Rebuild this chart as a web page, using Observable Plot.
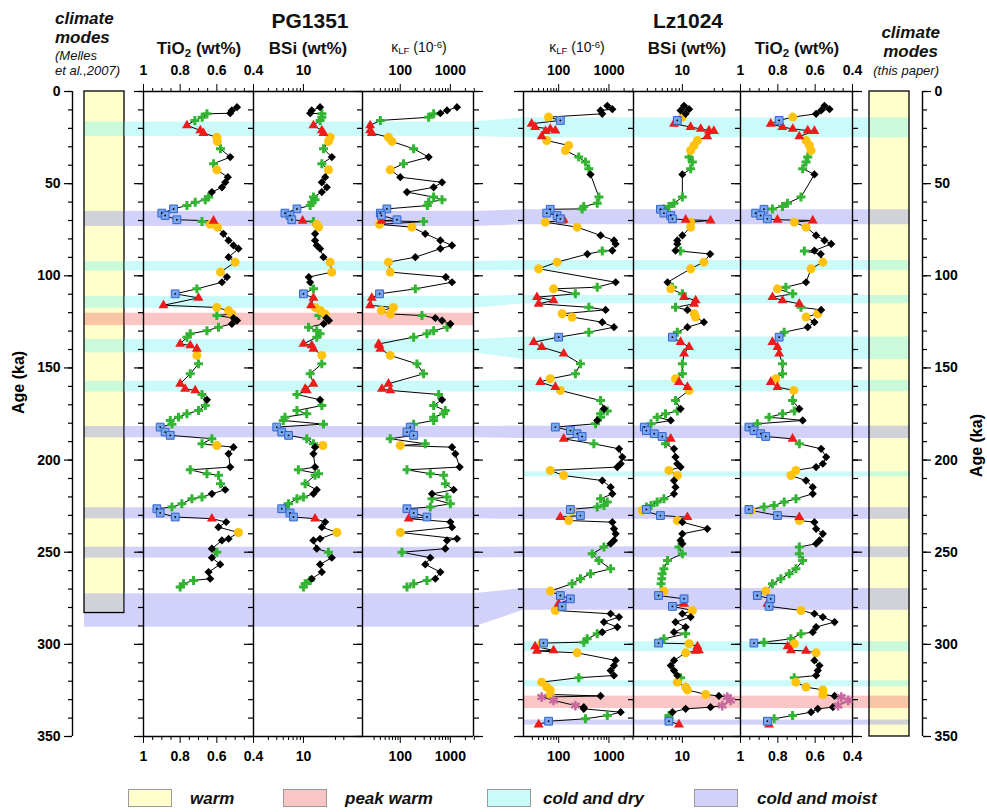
<!DOCTYPE html>
<html><head><meta charset="utf-8">
<script src="https://cdn.jsdelivr.net/npm/d3@7"></script>
<script src="https://cdn.jsdelivr.net/npm/@observablehq/plot@0.6"></script>
<style>
body{margin:0;background:#fff;font-family:"Liberation Sans",Arial,sans-serif;}
#chart{position:relative;width:987px;height:812px;overflow:hidden;background:#fff;}
.t{position:absolute;white-space:nowrap;line-height:1;color:#111;}
.b{font-weight:bold;}
.c{transform:translateX(-50%);}
.bi{font-weight:bold;font-style:italic;}
sub{font-size:.68em;vertical-align:-0.25em;line-height:0;}
sup{font-size:.68em;vertical-align:0.45em;line-height:0;}
.lg{position:absolute;top:789px;width:44px;height:18px;border:1px solid #9a9a9a;box-sizing:border-box;}
</style></head>
<body>
<div id="chart">
  <div class="t bi" style="left:55px;top:10px;font-size:17px">climate</div>
  <div class="t bi" style="left:55px;top:29px;font-size:17px">modes</div>
  <div class="t" style="left:55px;top:49px;font-size:13px;font-style:italic">(Melles</div>
  <div class="t" style="left:55px;top:64px;font-size:13px;font-style:italic">et al.,2007)</div>
  <div class="t bi" style="right:47px;top:24px;font-size:17px;text-align:right">climate</div>
  <div class="t bi" style="right:49px;top:43px;font-size:17px;text-align:right">modes</div>
  <div class="t" style="right:48px;top:64px;font-size:13px;font-style:italic;text-align:right">(this paper)</div>
  <div class="t b c" style="left:310px;top:10px;font-size:21px">PG1351</div>
  <div class="t b c" style="left:688px;top:10px;font-size:21px">Lz1024</div>
  <div class="t b c" style="left:199px;top:40px;font-size:17px">TiO<sub>2</sub> (wt%)</div>
  <div class="t b c" style="left:308px;top:40px;font-size:17px">BSi (wt%)</div>
  <div class="t c" style="left:419px;top:40px;font-size:14px">&kappa;<sub>LF</sub> (10<sup>-6</sup>)</div>
  <div class="t c" style="left:577px;top:40px;font-size:14px">&kappa;<sub>LF</sub> (10<sup>-6</sup>)</div>
  <div class="t b c" style="left:687px;top:40px;font-size:17px">BSi (wt%)</div>
  <div class="t b c" style="left:797px;top:40px;font-size:17px">TiO<sub>2</sub> (wt%)</div>
  <div class="lg" style="left:128px;background:#ffffcc"></div>
  <div class="t bi" style="left:190px;top:790px;font-size:17px">warm</div>
  <div class="lg" style="left:283px;background:#f9c5c5"></div>
  <div class="t bi" style="left:345px;top:790px;font-size:17px">peak warm</div>
  <div class="lg" style="left:487px;background:#cafafa"></div>
  <div class="t bi" style="left:543px;top:790px;font-size:17px">cold and dry</div>
  <div class="lg" style="left:694px;background:#d1d1f9"></div>
  <div class="t bi" style="left:757px;top:790px;font-size:17px">cold and moist</div>
</div>
<script>
// ---------- DATA: PG1351 ----------
const pgAge = [8.5,10.3,11.8,12.1,14.0,15.7,18.4,21.1,22.6,24.8,27.1,31.1,35.6,39.2,42.5,46.5,49.3,52.0,54.6,57.3,58.8,60.1,61.9,63.7,66.0,67.3,69.6,70.2,70.6,72.1,73.6,77.2,80.8,83.5,85.3,89.9,92.6,98.0,100.7,103.5,107.1,109.8,112.0,116.0,117.2,118.9,120.7,121.6,122.9,124.3,126.1,127.9,129.8,131.5,133.3,137.0,137.8,139.6,143.2,147.8,153.2,158.6,161.4,162.2,164.4,167.3,170.4,173.1,174.9,176.7,178.5,180.5,182.1,184.8,186.6,188.4,191.2,192.1,193.0,196.6,203.8,205.3,207.4,208.3,212.9,216.1,218.3,220.1,221.0,223.7,225.5,226.4,228.7,230.9,231.8,233.6,236.4,239.3,242.7,243.6,248.1,250.0,253.0,256.6,260.8,264.4,265.3,267.1,268.9];
const pgClass = ["D","D","D","P","P","P","T","T","T","C","C","P","D","P","C","D","D","D","D","P","P","P","P","S","S","S","S","T","P","C","C","D","D","D","D","D","C","C","D","D","P","S","T","T","C","C","C","P","D","D","D","P","P","P","P","T","T","T","C","P","P","T","T","T","P","D","P","P","P","P","P","P","S","S","S","P","P","C","D","D","D","P","P","P","P","D","D","P","P","P","P","S","S","S","T","D","D","C","D","D","D","P","D","D","D","D","P","P","P"];
const pgTiO2 = [.49,.518,.527,.654,.68,.72,.763,.69,.673,.60,.597,.58,.527,.618,.60,.54,.554,.572,.627,.645,.663,.718,.763,.836,.90,.882,.818,.618,.681,.636,.596,.564,.536,.509,.482,.536,.50,.58,.545,.572,.709,.827,.70,.891,.60,.536,.518,.60,.509,.49,.518,.591,.654,.745,.763,.80,.745,.709,.709,.70,.745,.80,.773,.718,.681,.654,.663,.70,.763,.809,.854,.845,.909,.882,.854,.627,.681,.60,.509,.536,.527,.745,.654,.591,.58,.554,.627,.681,.736,.791,.845,.927,.909,.827,.627,.549,.591,.482,.536,.572,.627,.60,.627,.582,.645,.636,.727,.782,.80];
const pgBSi = [17.7,13.3,12.6,18.8,18.8,17.7,14.1,18.8,19.9,25,23.6,19.9,26.5,18.8,23.6,21.1,18.8,22.3,18.8,14.1,14.9,13.3,12.6,8.0,5.3,6.3,6.7,9.7,14.1,15.8,16.8,14.9,14.9,15.8,17.7,19.9,25,26.5,12,12.6,14.1,10,14.1,13,15,18,21,17,22,24,20,11.9,15.8,17.7,15.8,10,13.3,14.1,18.8,18.8,12.6,14.1,10.6,11.2,8,17.7,18.8,8,11.2,5.3,5,19.9,4.0,4.75,6.0,11.2,14.1,19.5,14.9,14.1,14.9,8.4,16.8,14.9,10.6,15.8,14.1,10,8,6,5.3,4.75,6.3,7.1,14.9,21.1,18.8,31.5,17.7,14.1,15.8,23.6,26.5,17.7,18.8,13.3,12.6,10.6,10];
const pgKappa = [1360,858,631,464,369,40,25,25,27,58,68,185,369,116,63,100,682,464,136,464,682,369,347,54,40,42,86,42,292,38.5,171,316,631,1080,631,200,58,63,812,1080,200,38.5,27,25,73,42,63,271,501,682,1000,858,464,341,185,37,38,40,63,215,292,58,43,63,584,682,464,794,736,464,464,185,158,136,185,63,316,100,1080,1260,1535,136,398,736,794,1166,430,858,430,1000,398,136,185,341,147,1000,1080,100,1360,858,794,108,398,316,631,501,341,185,136];

// ---------- DATA: Lz1024 ----------
const lzAge = [7.8,9.6,10.3,12.1,13.9,15.7,17.5,19.3,20.3,21.2,21.5,24.4,26.6,29.3,32.0,35.6,38.3,41.9,45.0,57.3,60.6,62.4,63.7,63.9,66.0,67.3,69.1,69.6,70.0,70.9,73.6,78.1,80.8,82.7,86.3,86.6,88.2,92.6,96.2,103.5,106.2,107.1,109.8,111.6,113.4,115.2,117.1,118.5,120.6,122.4,125.2,127.9,130.6,133.3,136.0,138.7,142.3,147.8,153.2,155.9,157.7,160.4,162.2,167.7,172.2,173.4,174.9,176.7,178.5,180.3,182.1,184.0,185.7,187.2,188.5,191.2,193.9,198.4,202.0,203.8,205.6,208.4,211.1,214.7,218.3,221.0,222.8,224.6,225.5,226.8,227.3,230.1,231.0,232.8,233.7,237.3,240.0,243.6,245.4,247.2,250.9,254.5,259.0,261.7,264.4,267.1,271.1,273.5,275.3,278.0,279.4,281.6,283.4,285.2,287.9,290.6,293.4,294.3,297.0,298.8,299.3,299.7,301.1,303.3,303.6,304.6,308.7,311.5,314.2,316.9,318.1,320.5,323.2,324.7,327.2,328.0,328.6,330.4,333.2,334.1,335.0,336.8,338.6,340.4,341.7,343.5];
const lzClass = ["D","D","D","D","C","S","T","T","T","T","T","T","C","C","C","P","P","P","D","P","P","P","P","S","S","S","S","T","T","C","C","D","D","D","D","P","D","C","C","D","P","C","P","T","T","T","P","D","C","C","D","D","P","S","T","T","T","P","P","C","T","T","C","P","D","P","P","P","D","P","S","S","S","S","T","P","D","D","D","D","C","C","D","D","D","P","P","P","P","S","C","S","T","C","D","D","D","D","D","P","P","P","P","P","P","P","C","S","S","T","S","C","D","D","D","D","D","P","P","P","S","C","T","T","T","C","D","D","D","D","P","C","C","C","C","D","A","A","A","D","D","D","P","P","S","T"];
const lzTiO2 = [.55,.523,.568,.595,.72,.793,.838,.775,.72,.64,.604,.685,.649,.631,.622,.64,.649,.667,.604,.676,.748,.775,.829,.874,.919,.892,.856,.802,.613,.712,.649,.595,.55,.514,.604,.658,.57,.559,.622,.649,.757,.802,.72,.829,.775,.685,.676,.568,.586,.649,.604,.64,.766,.793,.829,.802,.793,.775,.775,.811,.838,.802,.715,.721,.685,.712,.775,.847,.667,.91,.955,.928,.892,.865,.721,.685,.568,.541,.559,.595,.703,.73,.649,.613,.613,.703,.766,.82,.874,.955,.942,.802,.685,.685,.604,.595,.559,.577,.595,.685,.685,.667,.703,.739,.784,.829,.865,.91,.838,.856,.847,.676,.604,.559,.496,.595,.613,.676,.73,.874,.928,.712,.748,.73,.649,.595,.604,.577,.586,.595,.712,.703,.649,.559,.559,.496,.46,.423,.477,.505,.586,.622,.721,.82,.856,.847];
const lzKappa = [927,1167,681,736,63,108,29,34,68,86,55,46,58,158,136,251,341,398,430,631,585,316,293,68,58,93,108,126,117,54,233,681,1259,1360,1167,736,372,93,40,1360,585,79,215,37,79,40,398,858,117,185,736,1259,398,100,32,46,126,271,215,68,43,86,108,681,794,927,681,681,585,541,86,171,233,293,126,501,1585,1848,1711,1468,68,126,736,1080,1167,681,927,794,585,171,185,271,108,158,1167,1259,1360,1259,1080,794,464,631,1080,430,271,185,68,108,171,100,117,86,1080,1585,794,1468,736,585,369,316,50,46,34,79,37,233,1360,1259,1080,1259,251,46,58,68,68,681,46,79,215,316,316,1711,927,341,63,40];
const lzBSi = [10.6,12.6,9.4,11.2,10,8.4,7.5,13.3,18.8,25,29.6,23.6,16.8,14.9,13.3,12.6,14.1,13.3,10,10,7.5,6.3,5.3,4.7,5.3,6.7,7.1,11.2,26.4,13.3,13.3,10,8.4,8.4,7.9,9.4,26,21,13.3,6,7.1,6.7,10,10.6,15.8,15,7.9,11.9,15,15.8,21,11.9,8.4,7.1,9.4,12.6,10.6,10,10,7.9,8.9,11.9,12.6,7.9,9.4,8.4,5.6,4.2,6.7,3.4,2.7,2.9,3.8,5.0,6.7,5.6,7.5,7.9,8.4,9.4,6.3,8.4,7.5,7.9,7.5,5.3,4.2,3.4,2.9,2.9,2.5,4.7,11.9,8.4,10,23.6,10,9.4,10,8.9,10,6,5.3,5,4.9,4.8,5.3,4.4,10.6,10.6,7.1,14.1,10,13.3,7.9,11.2,7.5,11.2,5.3,4.7,4.4,12.6,16.8,17.7,15.8,11.2,7.5,6.7,7.5,8.4,9.4,8.4,11.2,11.9,22.3,35.2,47,52.6,39.5,26.4,11.2,7.1,6.3,6.3,6.3,8.9];

// ---------- climate-mode intervals (ka) ----------
const pgBandStart = [16.6,65.1,92.3,111.3,120.3,134.6,157.2,181.8,225.9,247.3,272.6];
const pgBandEnd   = [24.4,73.2,97.4,117.6,127.0,141.8,163.1,187.9,231.9,253.2,290.7];
const pgBandType  = ["dry","moist","dry","dry","peak","dry","dry","moist","moist","moist","moist"];
const lzBandStart = [14.3,64.2,91.7,110.7,133.2,156.7,181.6,206.4,225.8,247.1,269.7,298.6,319.8,328.1,341.1];
const lzBandEnd   = [25.1,72.3,97.1,115.2,145.5,163.0,188.3,209.1,232.1,252.9,281.5,304.0,323.0,334.8,343.8];
const lzBandType  = ["dry","moist","dry","dry","dry","dry","moist","dry","moist","moist","moist","dry","dry","peak","moist"];
const bandLinks = [[0,0],[1,1],[2,2],[3,3],[5,4],[6,5],[7,6],[8,8],[9,9],[10,10]];
const pgModesEnd = 283;
const lzModesEnd = 350;

// ---------- tick labels ----------
const tioMajor = [1, 0.8, 0.6, 0.4];
const tioMinor = [0.95,0.9,0.85,0.75,0.7,0.65,0.55,0.5,0.45];
const bsiMajor = [10];
const bsiMinor = [3,4,5,6,7,8,9,30,40];
const kapMajor = [100, 1000];
const kapMinor = [30,40,50,60,70,80,90,200,300,400,500,600,700,800,900,2000,3000];
const ageMajor = [0,50,100,150,200,250,300,350];
const ageMinor = d3.range(0, 351, 10);

// ---------- build ----------
const chart = document.getElementById("chart");
const H = 812, TOP = 91, BOTTOM = 736;
const FONT = '"Liberation Sans", Arial, sans-serif';
const NARROW = '"Liberation Sans Narrow", "Liberation Sans", Arial, sans-serif';
const bandFill = {dry: "#68f1f1", moist: "#7c7cee", peak: "#ee5959"};
const bandOpacity = 0.35;
const noLabel = () => "";

const pgData = pgAge.map((a, i) => ({age: a, cls: pgClass[i], tio2: pgTiO2[i], bsi: pgBSi[i], kappa: pgKappa[i]}));
const lzData = lzAge.map((a, i) => ({age: a, cls: lzClass[i], tio2: lzTiO2[i], bsi: lzBSi[i], kappa: lzKappa[i]}));
const mkBands = (s, e, t) => s.map((v, i) => ({start: v, end: e[i], type: t[i]}));
const pgBands = mkBands(pgBandStart, pgBandEnd, pgBandType);
const lzBands = mkBands(lzBandStart, lzBandEnd, lzBandType);

function put(fig, left) {
  fig.style.position = "absolute";
  fig.style.left = left + "px";
  fig.style.top = "0px";
  chart.appendChild(fig);
}
function opts(width, ml, mr, x, marks, yAxis) {
  return {width, height: H, marginLeft: ml, marginRight: mr, marginTop: TOP, marginBottom: H - BOTTOM,
    style: {background: "transparent", overflow: "visible", fontFamily: FONT, color: "#000", maxWidth: "none"},
    x: {label: null, ...x},
    y: yAxis ? {domain: [0, 350], reverse: true, label: null} : {domain: [0, 350], reverse: true, label: null, axis: null},
    marks};
}
function bandRects(list) {
  return Object.keys(bandFill).map(t =>
    Plot.rect(list.filter(b => b.type === t), {y1: "start", y2: "end", fill: bandFill[t], fillOpacity: bandOpacity}));
}
const markerStyle = {
  P: {symbol: "plus", stroke: "#33b533", strokeWidth: 3, r: 3},
  C: {symbol: "circle", fill: "#ffc20f", r: 4.5},
  D: {symbol: "diamond2", fill: "#000", r: 3.7},
  T: {symbol: "triangle", fill: "#ee1b1b", r: 3.7},
  S: {symbol: "square", fill: "#7aa6ee", stroke: "#3465cc", strokeWidth: 1, r: 4.4},
  A: {symbol: "asterisk", stroke: "#c9689f", strokeWidth: 2.5, r: 4.6}
};
function dotMarks(data, key) {
  const out = Object.entries(markerStyle).map(([c, s]) =>
    Plot.dot(data.filter(d => d.cls === c), {x: key, y: "age", ...s}));
  out.push(Plot.dot(data.filter(d => d.cls === "S"), {x: key, y: "age", r: 0.9, fill: "#000"}));
  return out;
}

function panel({left, width, key, data, type, domain, major, minor, fmt, bands, rightEdge}) {
  const ml = 14, mr = 14;
  const marks = [
    ...bandRects(bands),
    Plot.ruleX([domain[0]], {stroke: "#000", strokeWidth: 1.4}),
    Plot.ruleY([0, 350], {stroke: "#000", strokeWidth: 1.4}),
    Plot.axisY({anchor: "left", ticks: ageMinor, tickSize: 5, tickFormat: noLabel, label: null, strokeWidth: 1.2}),
    Plot.axisY({anchor: "left", ticks: ageMajor, tickSize: 9, tickFormat: noLabel, label: null, strokeWidth: 1.2}),
    Plot.axisX({anchor: "top", ticks: minor, tickSize: 4, tickFormat: noLabel, label: null}),
    Plot.axisX({anchor: "top", ticks: major, tickSize: 8, tickPadding: 9, tickFormat: fmt, label: null, fontSize: 14, fontWeight: "bold"}),
    Plot.axisX({anchor: "bottom", ticks: minor, tickSize: 4, tickFormat: noLabel, label: null}),
    Plot.axisX({anchor: "bottom", ticks: major, tickSize: 7, tickPadding: 8, tickFormat: fmt, label: null, fontSize: 14, fontWeight: "bold", fontFamily: NARROW})
  ];
  if (rightEdge) {
    marks.push(Plot.ruleX([domain[1]], {stroke: "#000", strokeWidth: 1.4}));
    marks.push(Plot.axisY({anchor: "right", ticks: ageMinor, tickSize: 5, tickFormat: noLabel, label: null, strokeWidth: 1.2}));
    marks.push(Plot.axisY({anchor: "right", ticks: ageMajor, tickSize: 9, tickFormat: noLabel, label: null, strokeWidth: 1.2}));
  }
  marks.push(Plot.line(data, {x: key, y: "age", stroke: "#000", strokeWidth: 1}));
  marks.push(...dotMarks(data, key));
  put(Plot.plot(opts(width + ml + mr, ml, mr, {type, domain}, marks, true)), left - ml);
}

const plain = {domain: [0, 1], axis: null};

// left climate-mode column and bridge
put(Plot.plot(opts(40, 0, 0, plain, [
  Plot.rect([{start: 0, end: pgModesEnd}], {y1: "start", y2: "end", fill: "#ffffcc"}),
  ...bandRects(pgBands),
  Plot.rect([{start: 0, end: pgModesEnd}], {y1: "start", y2: "end", fill: "none", stroke: "#000", strokeWidth: 1.3})
])), 84);
put(Plot.plot(opts(19, 0, 0, plain, bandRects(pgBands))), 124);

// right climate-mode column and bridge
put(Plot.plot(opts(17, 0, 0, plain, bandRects(lzBands))), 852);
put(Plot.plot(opts(40, 0, 0, plain, [
  Plot.rect([{start: 0, end: lzModesEnd}], {y1: "start", y2: "end", fill: "#ffffcc"}),
  ...bandRects(lzBands),
  Plot.rect([{start: 0, end: lzModesEnd}], {y1: "start", y2: "end", fill: "none", stroke: "#000", strokeWidth: 1.3})
])), 869);

// connections between the two cores
const linkRows = [];
bandLinks.forEach(([i, j], k) => {
  linkRows.push({link: k, side: 0, start: pgBandStart[i], end: pgBandEnd[i], type: pgBandType[i]});
  linkRows.push({link: k, side: 1, start: lzBandStart[j], end: lzBandEnd[j], type: lzBandType[j]});
});
put(Plot.plot(opts(50, 0, 0, plain, Object.keys(bandFill).map(t =>
  Plot.area(linkRows.filter(r => r.type === t), {x1: "side", y1: "start", y2: "end", z: "link", fill: bandFill[t], fillOpacity: bandOpacity}))
)), 473);

// age axes
put(Plot.plot(opts(82, 72, 0, plain, [
  Plot.ruleX([0], {stroke: "#000", strokeWidth: 1.4}),
  Plot.axisY({anchor: "left", ticks: ageMinor, tickSize: 4, tickFormat: noLabel, label: null, strokeWidth: 1.2}),
  Plot.axisY({anchor: "left", ticks: ageMajor, tickSize: 8, tickPadding: 4, label: null, fontSize: 14, fontWeight: "bold", strokeWidth: 1.2}),
  Plot.text(["Age (ka)"], {frameAnchor: "left", dx: -54, rotate: -90, fontSize: 16, fontWeight: "bold"})
], true)), 0);
put(Plot.plot(opts(75, 0, 65, plain, [
  Plot.ruleX([1], {stroke: "#000", strokeWidth: 1.4}),
  Plot.axisY({anchor: "right", ticks: ageMinor, tickSize: 4, tickFormat: noLabel, label: null, strokeWidth: 1.2}),
  Plot.axisY({anchor: "right", ticks: ageMajor, tickSize: 8, tickPadding: 4, label: null, fontSize: 14, fontWeight: "bold", strokeWidth: 1.2}),
  Plot.text(["Age (ka)"], {frameAnchor: "right", dx: 54, rotate: -90, fontSize: 16, fontWeight: "bold"})
], true)), 912);

const fmtNum = d => String(d);
// PG1351 panels
panel({left: 143, width: 110, key: "tio2", data: pgData, type: "linear", domain: [1, 0.4], major: tioMajor, minor: tioMinor, fmt: fmtNum, bands: pgBands});
panel({left: 253, width: 109, key: "bsi", data: pgData, type: "log", domain: [1.8, 76], major: bsiMajor, minor: bsiMinor, fmt: fmtNum, bands: pgBands});
panel({left: 362, width: 111, key: "kappa", data: pgData, type: "log", domain: [17.6, 2900], major: kapMajor, minor: kapMinor, fmt: fmtNum, bands: pgBands, rightEdge: true});
// Lz1024 panels
panel({left: 523, width: 110, key: "kappa", data: lzData, type: "log", domain: [20, 3076], major: kapMajor, minor: kapMinor, fmt: fmtNum, bands: lzBands});
panel({left: 633, width: 107, key: "bsi", data: lzData, type: "log", domain: [1.86, 74], major: bsiMajor, minor: bsiMinor, fmt: fmtNum, bands: lzBands});
panel({left: 740, width: 112, key: "tio2", data: lzData, type: "linear", domain: [1, 0.4], major: tioMajor, minor: tioMinor, fmt: fmtNum, bands: lzBands, rightEdge: true});
</script>
</body></html>
